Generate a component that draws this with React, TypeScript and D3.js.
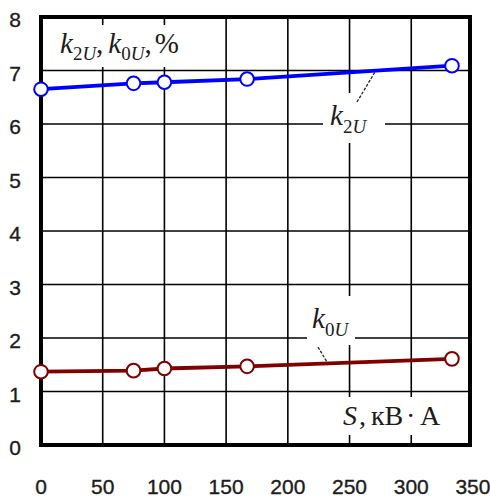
import React from "react";
import * as d3 from "d3";

const sValues = [0, 75, 100, 167, 333];
const k2U = [6.65, 6.76, 6.78, 6.84, 7.09];
const k0U = [1.37, 1.39, 1.43, 1.47, 1.61];
const xTicks = [0, 50, 100, 150, 200, 250, 300, 350];
const yTicks = [0, 1, 2, 3, 4, 5, 6, 7, 8];
const xGrid = [50, 100, 150, 200, 250, 300];
const yGrid = [1, 2, 3, 4, 5, 6, 7];

const W = 490;
const H = 499;

export default function App() {
  const x = d3.scaleLinear().domain([0, 347.6]).range([41, 470]);
  const y = d3.scaleLinear().domain([0, 8]).range([445, 17]);
  const serif = "'Liberation Serif', 'Times New Roman', serif";
  const sans = "'Liberation Sans', Arial, sans-serif";
  const txt = "#1c1c1c";

  const line = d3
    .line<number>()
    .x((_, i) => x(sValues[i]))
    .y((d) => y(d));

  return (
    <svg
      width={W}
      height={H}
      style={{ position: "absolute", left: 0, top: 0, background: "#fff" }}
    >
      <rect x={0} y={0} width={W} height={H} fill="#fff" />
      {/* grid */}
      {xGrid.map((v) => (
        <line key={"gx" + v} x1={x(v)} x2={x(v)} y1={y(8)} y2={y(0)} stroke="#000" strokeWidth={1.6} />
      ))}
      {yGrid.map((v) => (
        <line key={"gy" + v} x1={x(0)} x2={x(347.6)} y1={y(v)} y2={y(v)} stroke="#000" strokeWidth={1.6} />
      ))}
      {/* label backgrounds */}
      <rect x={44} y={25} width={152} height={42} fill="#fff" />
      <rect x={323} y={93} width={62} height={50} fill="#fff" />
      <rect x={307} y={296} width={48} height={49} fill="#fff" />
      <rect x={338} y={397} width={114} height={38} fill="#fff" />
      {/* frame */}
      <rect
        x={x(0)}
        y={y(8)}
        width={x(347.6) - x(0)}
        height={y(0) - y(8)}
        fill="none"
        stroke="#000"
        strokeWidth={4}
      />
      {/* data */}
      <path d={line(k2U) || ""} fill="none" stroke="#0000ff" strokeWidth={3.8} />
      <path d={line(k0U) || ""} fill="none" stroke="#800000" strokeWidth={3.8} />
      {k2U.map((v, i) => (
        <circle key={"a" + i} cx={x(sValues[i])} cy={y(v)} r={6.8} fill="#fff" stroke="#0000ff" strokeWidth={2} />
      ))}
      {k0U.map((v, i) => (
        <circle key={"b" + i} cx={x(sValues[i])} cy={y(v)} r={6.8} fill="#fff" stroke="#800000" strokeWidth={2} />
      ))}
      {/* leaders */}
      <line x1={357} y1={102} x2={375} y2={72} stroke="#222" strokeWidth={1.3} strokeDasharray="3 1.5" />
      <line x1={318} y1={347} x2={327} y2={362} stroke="#222" strokeWidth={1.3} strokeDasharray="3 1.5" />
      {/* tick labels */}
      {yTicks.map((v) => (
        <text key={"yt" + v} x={15} y={y(v) + 10} textAnchor="middle" fontFamily={sans} fontSize={21} fill={txt} stroke={txt} strokeWidth={0.35}>
          {v}
        </text>
      ))}
      {xTicks.map((v) => (
        <text key={"xt" + v} x={x(v)} y={494} textAnchor="middle" fontFamily={sans} fontSize={21} fill={txt} stroke={txt} strokeWidth={0.35}>
          {v}
        </text>
      ))}
      {/* axis title */}
      <text x={60} y={53} fontFamily={serif} fontSize={29} fill={txt}>
        <tspan fontStyle="italic">k</tspan>
        <tspan fontSize={19} dy={7}>2</tspan>
        <tspan fontSize={19} fontStyle="italic">U</tspan>
        <tspan dy={-7}>,</tspan>
        <tspan fontStyle="italic" dx={5}>k</tspan>
        <tspan fontSize={19} dy={7}>0</tspan>
        <tspan fontSize={19} fontStyle="italic">U</tspan>
        <tspan dy={-7}>,</tspan>
        <tspan dx={3}>%</tspan>
      </text>
      <text x={330} y={125} fontFamily={serif} fontSize={29} fill={txt}>
        <tspan fontStyle="italic">k</tspan>
        <tspan fontSize={19} dy={8}>2</tspan>
        <tspan fontSize={19} fontStyle="italic">U</tspan>
      </text>
      <text x={312} y={328} fontFamily={serif} fontSize={29} fill={txt}>
        <tspan fontStyle="italic">k</tspan>
        <tspan fontSize={19} dy={8}>0</tspan>
        <tspan fontSize={19} fontStyle="italic">U</tspan>
      </text>
      <text y={425} fontFamily={serif} fontSize={28} fill={txt}>
        <tspan x={343} fontStyle="italic">S</tspan>
        <tspan x={359}>,</tspan>
        <tspan x={371}>кВ</tspan>
        <tspan x={406}>·</tspan>
        <tspan x={420}>А</tspan>
      </text>
    </svg>
  );
}
